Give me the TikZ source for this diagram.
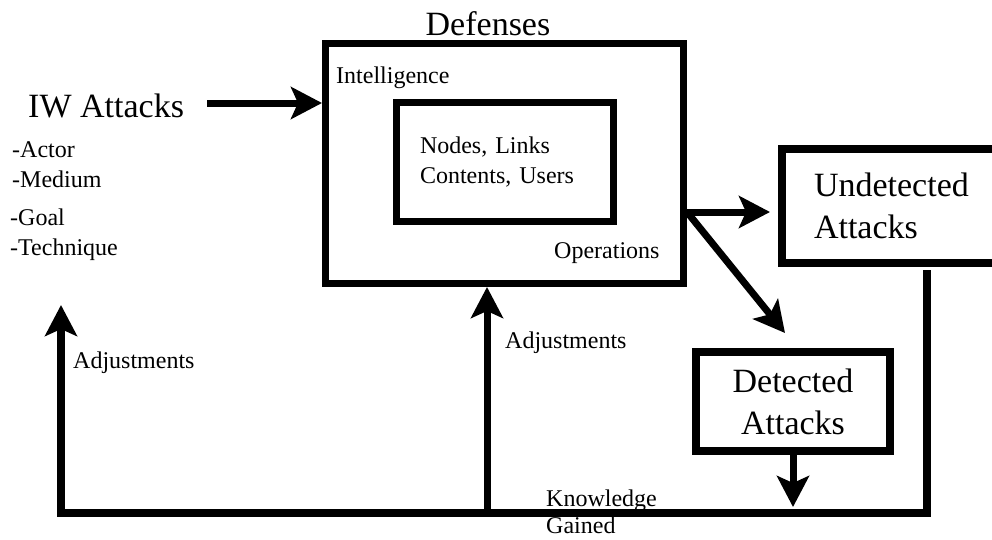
\documentclass[tikz,border=0pt]{standalone}
\usepackage{fontspec}
\setmainfont{Liberation Serif}
\usetikzlibrary{arrows.meta,calc}
\tikzset{
  box/.style={draw, line width=7pt, inner sep=0pt},
  bigfont/.style={font=\fontsize{34}{42}\selectfont},
  smallfont/.style={font=\fontsize{24}{30}\selectfont},
  txt/.style={inner sep=0pt, anchor=base west},
  flow/.style={line width=7pt, -{Stealth[length=31pt,width=32pt,inset=7pt]}},
}
\begin{document}
\begin{tikzpicture}[x=1pt,y=-1pt,line join=miter]
\useasboundingbox (0,0) rectangle (992,539);
\clip (0,0) rectangle (992,539);

% boxes
\node[box, minimum width=358pt, minimum height=240pt] (def) at (504.5,163.5) {};
\node[box, smallfont, align=left, text width=170pt, inner xsep=23.5pt, minimum height=119pt] (core) at (505,162) {Nodes, Links\\Contents, Users};
\node[box, line width=8pt, bigfont, align=left, text width=164pt, inner xsep=32pt, minimum height=114pt] (und) at (896,206) {Undetected\\Attacks};
\node[box, line width=8pt, bigfont, align=center, minimum width=194pt, minimum height=99pt] (det) at (793,401.5) {Detected\\Attacks};

% texts
\node[bigfont, inner sep=0pt, anchor=base] (deflabel) at (488,35) {Defenses};
\node[smallfont, txt] (intel) at (336,83) {Intelligence};
\node[smallfont, txt] (ops) at (554,258) {Operations};
\node[bigfont, txt] (iw) at (28,117) {IW Attacks};
\node[smallfont, txt] (actor) at (12,157) {-Actor};
\node[smallfont, txt] (medium) at (12,187) {-Medium};
\node[smallfont, txt] (goal) at (10,225) {-Goal};
\node[smallfont, txt] (tech) at (10,255) {-Technique};
\node[smallfont, txt] (adjl) at (73,368) {Adjustments};
\node[smallfont, txt] (adjm) at (505,348) {Adjustments};
\node[smallfont, txt] (know) at (546,506) {Knowledge};
\node[smallfont, txt] (gain) at (546,533) {Gained};

% coordinates
\coordinate (iwa) at (207,103);
\coordinate (sy) at (0,212);
\coordinate (split) at (def.east |- sy);
\coordinate (dtip) at (785,333);
\coordinate (bl) at (61,513);
\coordinate (br) at (927,513);
\coordinate (ltip) at (61,305);
\coordinate (mb) at (487,513);

% connectors
\draw[flow] (iwa) -- (iwa -| def.west);
\draw[flow, shorten >=8pt] (split) -- (split -| und.west);
\draw[flow] (split) -- (dtip);
\draw[flow, line width=8pt, shorten <=3pt] (und.south -| br) -- (br) -- (bl) -- (ltip);
\draw[flow] (mb) -- (mb |- def.south);
\draw[flow, shorten >=6pt] (det.south) -- (det.south |- bl);
\end{tikzpicture}
\end{document}
